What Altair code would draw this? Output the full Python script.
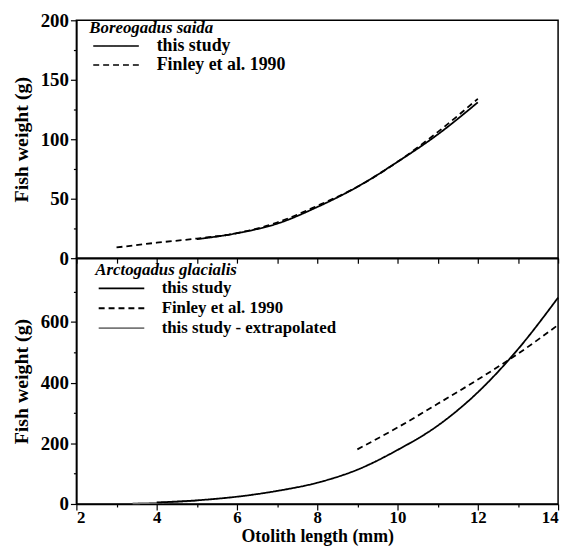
import altair as alt
import pandas as pd

# ---- data ----
x_ticks = list(range(2, 15))

bs_len_study = [5, 6, 7, 8, 9, 10, 11, 12]
bs_w_study = [16, 21, 29, 43, 60, 81, 104, 131]
bs_len_finley = [3, 4, 5, 6, 7, 8, 9, 10, 11, 12]
bs_w_finley = [9, 13, 16.5, 21, 30, 44, 60, 81, 106, 134]

ag_len_study = [4, 5, 6, 7, 8, 9, 10, 11, 12, 13, 14]
ag_w_study = [5, 12, 24, 43, 70, 113, 178, 258, 368, 510, 680]
ag_len_finley = [9, 10, 11, 12, 13, 14]
ag_w_finley = [180, 252, 330, 410, 495, 590]
ag_len_extrap = [3.4, 4, 5]
ag_w_extrap = [2, 4, 11]

top_series = ["this study", "Finley et al. 1990"]
bot_series = ["this study", "Finley et al. 1990", "this study - extrapolated"]

SERIF = "Liberation Serif"

top_df = pd.concat([
    pd.DataFrame({"len": bs_len_study, "w": bs_w_study, "series": top_series[0]}),
    pd.DataFrame({"len": bs_len_finley, "w": bs_w_finley, "series": top_series[1]}),
])
bot_df = pd.concat([
    pd.DataFrame({"len": ag_len_extrap, "w": ag_w_extrap, "series": bot_series[2]}),
    pd.DataFrame({"len": ag_len_study, "w": ag_w_study, "series": bot_series[0]}),
    pd.DataFrame({"len": ag_len_finley, "w": ag_w_finley, "series": bot_series[1]}),
])

# long horizontal stroke used as legend symbol
LINE_SYMBOL = "M-1,0H8.2"


def legend(title, lx, ly, row_pad, label_size, title_pad):
    return alt.Legend(
        title=title, orient="none", legendX=lx, legendY=ly,
        symbolType=LINE_SYMBOL, symbolSize=100, labelOffset=50, labelLimit=400,
        titleFont=SERIF, titleFontSize=17, titleFontWeight="bold", titleFontStyle="italic",
        titleColor="black", titlePadding=title_pad,
        labelFont=SERIF, labelFontSize=label_size, labelFontWeight="bold", labelColor="black",
        rowPadding=row_pad,
    )


def yaxis(vals, major):
    return alt.Axis(
        values=vals, title="Fish weight (g)",
        labelExpr=f"datum.value % {major} == 0 ? datum.label : ''",
        tickSize={"condition": {"test": f"datum.value % {major} == 0", "value": 6}, "value": 3},
        titlePadding=9, labelFontSize=19, titleFontSize=20,
    )


x_scale = alt.Scale(domain=[2, 14], nice=False, zero=False)

top = alt.Chart(top_df).mark_line(interpolate="monotone", color="black", strokeWidth=1.8).encode(
    x=alt.X("len:Q", scale=x_scale,
            axis=alt.Axis(values=x_ticks, labels=False, title=None, tickSize=5)),
    y=alt.Y("w:Q", scale=alt.Scale(domain=[0, 200], nice=False), axis=yaxis(list(range(0, 201, 25)), 50)),
    strokeDash=alt.StrokeDash("series:N", scale=alt.Scale(domain=top_series, range=[[1, 0], [6, 4]]),
                              legend=legend("Boreogadus saida", 13, 0, 1, 18, 0)),
    detail="series:N",
).properties(width=486, height=240)

blg = legend("Arctogadus glacialis", 19, 4, 2, 17, 1)
bottom = alt.Chart(bot_df).mark_line(interpolate="monotone").encode(
    x=alt.X("len:Q", scale=x_scale,
            axis=alt.Axis(values=x_ticks, title="Otolith length (mm)",
                          labelExpr="datum.value % 2 == 0 ? datum.label : ''",
                          tickSize={"condition": {"test": "datum.value % 2 == 0", "value": 6}, "value": 3},
                          labelPadding=0, titlePadding=2, labelFontSize=17, titleFontSize=18)),
    y=alt.Y("w:Q", scale=alt.Scale(domain=[0, 810], nice=False), axis=yaxis(list(range(0, 701, 100)), 200)),
    strokeDash=alt.StrokeDash("series:N", scale=alt.Scale(domain=bot_series, range=[[1, 0], [6, 4], [1, 0]]),
                              legend=blg),
    color=alt.Color("series:N", scale=alt.Scale(domain=bot_series, range=["black", "black", "#777777"]),
                    legend=blg),
    strokeWidth=alt.StrokeWidth("series:N", scale=alt.Scale(domain=bot_series, range=[1.8, 1.8, 1.0]),
                                legend=blg),
    detail="series:N",
).properties(width=486, height=248)

chart = alt.vconcat(top, bottom, spacing=0, bounds="flush").resolve_scale(
    strokeDash="independent", color="independent", strokeWidth="independent", y="independent"
).resolve_legend(strokeDash="independent", color="independent", strokeWidth="independent").properties(
    padding={"left": 2, "top": 0, "right": 5, "bottom": 0}
).configure_view(
    stroke="black", strokeWidth=1.5
).configure_axis(
    labelFont=SERIF, labelFontWeight="bold", labelColor="black",
    titleFont=SERIF, titleFontWeight="bold", titleColor="black",
    domainColor="black", domainWidth=1.5, tickColor="black", tickWidth=1.2,
    grid=False, labelPadding=2,
)

chart.save("out.html", embed_options={"renderer": "svg", "actions": False})
